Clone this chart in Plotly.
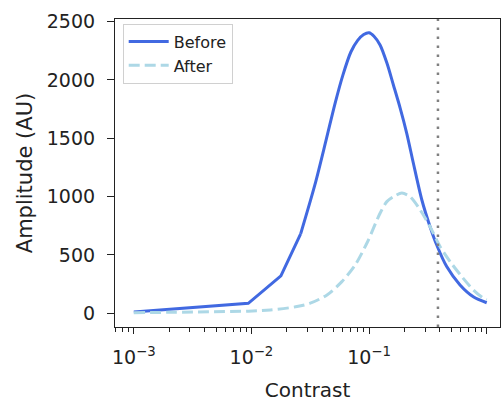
import plotly.graph_objects as go

# Data
before_x = [0.001, 0.0094, 0.0178, 0.0262, 0.0346, 0.043, 0.0514, 0.0598, 0.07, 0.08, 0.09, 0.1,
            0.11, 0.124, 0.142, 0.161, 0.184, 0.209, 0.238, 0.281, 0.33, 0.376, 0.457, 0.593, 0.769, 1.0]
before_y = [10, 85, 320, 680, 1100, 1480, 1800, 2040, 2240, 2340, 2390, 2405,
            2375, 2300, 2143, 1957, 1757, 1543, 1286, 971, 742, 585, 400, 243, 142, 90]

after_x = [0.001, 0.0094, 0.0145, 0.0244, 0.0316, 0.0439, 0.0587, 0.0762, 0.0957, 0.124, 0.1416,
           0.165, 0.19, 0.223, 0.272, 0.33, 0.402, 0.489, 0.614, 0.769, 0.935, 1.0]
after_y = [5, 18, 28, 57, 86, 157, 271, 414, 600, 857, 957,
           1005, 1030, 1000, 886, 742, 571, 442, 314, 200, 129, 115]

vline_x = 0.385

x_tickvals = [0.001, 0.01, 0.1, 1]
x_ticktext = ["10<sup>−3</sup>", "10<sup>−2</sup>", "10<sup>−1</sup>", "10<sup>0</sup>"]
x_minor = [m * 10.0 ** e for e in (-4, -3, -2, -1) for m in range(2, 10)] + [2.0]
y_tickvals = [0, 500, 1000, 1500, 2000, 2500]

# the low-contrast part of "Before" is drawn with straight segments, the rest smoothed
split = 3
fig = go.Figure()
fig.add_trace(go.Scatter(x=before_x[:split + 1], y=before_y[:split + 1], mode="lines", name="Before",
                         legendgroup="b", line=dict(color="#4169E1", width=3)))
fig.add_trace(go.Scatter(x=before_x[split:], y=before_y[split:], mode="lines", name="Before",
                         legendgroup="b", showlegend=False,
                         line=dict(color="#4169E1", width=3, shape="spline", smoothing=0.8)))
fig.add_trace(go.Scatter(x=after_x, y=after_y, mode="lines", name="After",
                         line=dict(color="#ADD8E6", width=3, dash="11px,5px",
                                   shape="spline", smoothing=0.8)))
fig.add_shape(type="line", xref="x", yref="paper", x0=vline_x, x1=vline_x, y0=0, y1=1,
              line=dict(color="#808080", width=2.5, dash="2.5px,6.5px"))

font = "DejaVu Sans"
fig.update_layout(
    width=503, height=403,
    margin=dict(l=115, r=3, t=19, b=76),
    paper_bgcolor="white", plot_bgcolor="white",
    font=dict(family=font, color="#222", size=19),
    legend=dict(x=0.02, y=0.985, xanchor="left", yanchor="top", itemwidth=40,
                bgcolor="rgba(255,255,255,0.8)", bordercolor="#d0d0d0", borderwidth=1,
                font=dict(size=16, family=font, color="#222"), tracegroupgap=0),
    xaxis=dict(type="log", range=[-3.16, 0.113],
               tickmode="array", tickvals=x_tickvals, ticktext=x_ticktext,
               ticks="outside", ticklen=6, tickwidth=1, tickcolor="#222",
               ticklabelstandoff=7,
               showline=True, linecolor="#222", linewidth=1.2, mirror=True,
               showgrid=False, zeroline=False,
               minor=dict(tickmode="array", tickvals=x_minor, ticks="outside",
                          ticklen=3.5, tickwidth=1, tickcolor="#222", showgrid=False),
               title=dict(text="Contrast", font=dict(size=20, family=font), standoff=16),
               tickfont=dict(size=19)),
    yaxis=dict(range=[-118, 2523], tickmode="array", tickvals=y_tickvals,
               ticks="outside", ticklen=7, tickwidth=1, tickcolor="#222",
               ticklabelstandoff=8,
               showline=True, linecolor="#222", linewidth=1.2, mirror=True,
               showgrid=False, zeroline=False,
               title=dict(text="Amplitude (AU)", font=dict(size=21, family=font), standoff=8),
               tickfont=dict(size=19)),
)

fig.write_html("out.html")
